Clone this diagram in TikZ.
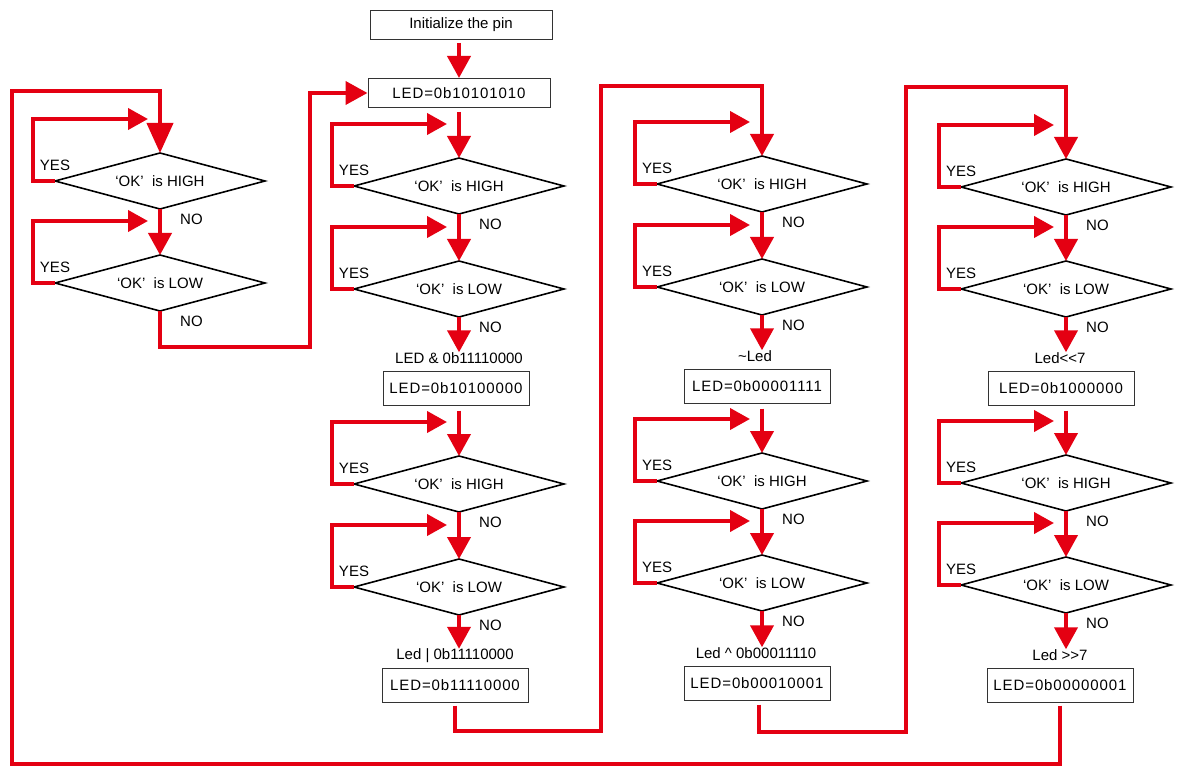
\documentclass[tikz,border=0pt]{standalone}
\usepackage{fontspec}
\setmainfont{Liberation Sans}
\newfontfamily\ledfont[LetterSpace=6]{Liberation Sans}
\usetikzlibrary{arrows.meta,positioning,shapes.geometric}
\definecolor{ledred}{RGB}{228,0,18}

\begin{document}
\begin{tikzpicture}
  [x=1pt,y=-1pt,
   every node/.style={font=\fontsize{15}{18}\selectfont},
   box/.style={draw=black!80, line width=1pt, minimum width=146pt, minimum height=34pt, inner sep=0pt, font=\fontsize{15}{18}\selectfont\ledfont},
   wbox/.style={box, minimum width=182pt, minimum height=29pt},
   dec/.style={diamond, draw=black, line width=1.6pt, aspect=3.75, minimum width=210pt, minimum height=56pt, inner sep=0pt, outer sep=0pt},
   lbl/.style={inner sep=0pt},
   flow/.style={draw=ledred, line width=4pt},
   head/.style={flow, -{Triangle[length=22pt,width=23pt]}},
   bighead/.style={flow, -{Triangle[length=30pt,width=26pt]}},
   loophead/.style={flow, -{Triangle[length=20pt,width=21pt]}}]
  \fill[white] (0,0) rectangle (1182,775);
  \useasboundingbox (0,0) rectangle (1182,775);

  % start
  \node [wbox, font=\fontsize{15}{18}\selectfont] (init) at (461,25) {Initialize the pin};
  \node [wbox] (led0) at (459,93) {LED=0b10101010};

  % column 1
  \node [dec] (c1h) at (160,181) {‘OK’~ is HIGH};
  \node [dec] (c1l) at (160,283) {‘OK’~ is LOW};

  % column 2
  \node [dec] (c2h1) at (459,186) {‘OK’~ is HIGH};
  \node [dec] (c2l1) at (459,289) {‘OK’~ is LOW};
  \node [lbl] (op2a) at (459,358) {LED \& 0b11110000};
  \node [box] (box2a) at (456,388) {LED=0b10100000};
  \node [dec] (c2h2) at (459,484) {‘OK’~ is HIGH};
  \node [dec] (c2l2) at (459,587) {‘OK’~ is LOW};
  \node [lbl] (op2b) at (455,656) {Led | 0b11110000};
  \node [box] (box2b) at (455,685) {LED=0b11110000};

  % column 3
  \node [dec] (c3h1) at (762,184) {‘OK’~ is HIGH};
  \node [dec] (c3l1) at (762,287) {‘OK’~ is LOW};
  \node [lbl] (op3a) at (755,356) {\textasciitilde Led};
  \node [box] (box3a) at (757,386) {LED=0b00001111};
  \node [dec] (c3h2) at (762,481) {‘OK’~ is HIGH};
  \node [dec] (c3l2) at (762,583) {‘OK’~ is LOW};
  \node [lbl] (op3b) at (756,653) {Led \textasciicircum{} 0b00011110};
  \node [box] (box3b) at (757,683) {LED=0b00010001};

  % column 4
  \node [dec] (c4h1) at (1066,187) {‘OK’~ is HIGH};
  \node [dec] (c4l1) at (1066,289) {‘OK’~ is LOW};
  \node [lbl] (op4a) at (1060,358) {Led<\kern0pt<7};
  \node [box] (box4a) at (1061,388) {LED=0b1000000};
  \node [dec] (c4h2) at (1066,483) {‘OK’~ is HIGH};
  \node [dec] (c4l2) at (1066,585) {‘OK’~ is LOW};
  \node [lbl] (op4b) at (1060,655) {Led >\kern0pt>7};
  \node [box] (box4b) at (1060,685) {LED=0b00000001};

  % YES loops and labels
  \foreach \d in {c1h,c1l,c2h1,c2l1,c2h2,c2l2,c3h1,c3l1,c3h2,c3l2,c4h1,c4l1,c4h2,c4l2} {
    \draw [loophead] (\d.west) -- ++(-22,0) -- ++(0,-62) -- ++(115,0);
    \node [lbl, above=10pt of \d.west] (yes\d) {YES};
    \node [lbl, below right=5pt and 20pt of \d.south] (no\d) {NO};
  }

  % straight arrows
  \draw [head] (led0.north |- init.south) ++(0,3) -- (led0.north);
  \draw [head] (c1h.south) -- (c1l.north);
  \draw [head] (led0.south) ++(0,4) -- (c2h1.north);
  \draw [head] (c2h1.south) -- (c2l1.north);
  \draw [head] (c2l1.south) -- (c2l1.south |- op2a.north);
  \draw [head] (c2h2.north |- box2a.south) ++(0,5) -- (c2h2.north);
  \draw [head] (c2h2.south) -- (c2l2.north);
  \draw [head] (c2l2.south) -- (c2l2.south |- op2b.north);
  \draw [head] (c3h1.south) -- (c3l1.north);
  \draw [head] (c3l1.south) -- (c3l1.south |- op3a.north);
  \draw [head] (c3h2.north |- box3a.south) ++(0,5) -- (c3h2.north);
  \draw [head] (c3h2.south) -- (c3l2.north);
  \draw [head] (c3l2.south) -- (c3l2.south |- op3b.north);
  \draw [head] (c4h1.south) -- (c4l1.north);
  \draw [head] (c4l1.south) -- (c4l1.south |- op4a.north);
  \draw [head] (c4h2.north |- box4a.south) ++(0,5) -- (c4h2.north);
  \draw [head] (c4h2.south) -- (c4l2.north);
  \draw [head] (c4l2.south) -- (c4l2.south |- op4b.north);

  % long returns
  \draw [head] (c1l.south) -- ++(0,36) -| (310,93) -- (led0.west);
  \draw [head] (box2b.south) ++(0,3) -- ++(0,25) -| (601,86) -| (c3h1.north);
  \draw [head] (box3b.south) ++(2,4) -- ++(0,27) -| (906,87) -| (c4h1.north);
  \draw [bighead] (box4b.south) ++(0,3) -- ++(0,58) -| (12,91) -| (c1h.north);
\end{tikzpicture}
\end{document}
